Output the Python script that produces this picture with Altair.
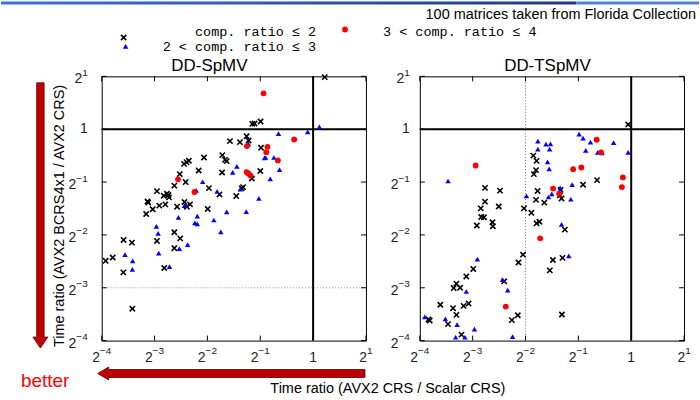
import altair as alt
import pandas as pd

# ---------------- data ----------------
tick_values = [0.0625, 0.125, 0.25, 0.5, 1, 2]
tick_base = ["2", "2", "2", "2", "1", "2"]
tick_exp = ["−4", "−3", "−2", "−1", "", "1"]
panel_titles = ["DD-SpMV", "DD-TSpMV"]
legend_labels = ["comp. ratio ≤ 2", "2 < comp. ratio ≤ 3", "3 < comp. ratio ≤ 4"]
note_text = ["100 matrices taken from Florida Collection"]
x_title = ["Time ratio (AVX2 CRS / Scalar CRS)"]
y_title = ["Time ratio (AVX2 BCRS4x1 / AVX2 CRS)"]
better_text = ["better"]
unity = [1]
spmv_dotted_y = [0.125]
tspmv_dotted_x = [0.25]

# DD-SpMV  (x: AVX2 CRS / Scalar CRS, y: AVX2 BCRS4x1 / AVX2 CRS)
spmv_low_x = [1.165, 0.450, 0.464, 0.502, 0.418, 0.429, 0.383, 0.336, 0.505, 0.304, 0.315, 0.322,
              0.239, 0.196, 0.190, 0.184, 0.223, 0.174, 0.303, 0.448, 0.500, 0.188, 0.162, 0.255,
              0.293, 0.399, 0.392, 0.365, 0.129, 0.141, 0.150, 0.151, 0.147, 0.114, 0.115, 0.133,
              0.144, 0.122, 0.112, 0.168, 0.185, 0.199, 0.191, 0.251, 0.162, 0.175, 0.129, 0.0833,
              0.0929, 0.162, 0.0722, 0.0658, 0.0830, 0.142, 0.0934]
spmv_low_y = [1.98, 1.072, 1.077, 1.106, 0.912, 0.862, 0.844, 0.855, 0.784, 0.712, 0.669, 0.658,
              0.690, 0.661, 0.649, 0.635, 0.582, 0.555, 0.567, 0.524, 0.578, 0.500, 0.477, 0.462,
              0.425, 0.468, 0.460, 0.416, 0.444, 0.418, 0.422, 0.409, 0.429, 0.388, 0.382, 0.367,
              0.373, 0.350, 0.329, 0.362, 0.385, 0.373, 0.362, 0.351, 0.259, 0.239, 0.231, 0.234,
              0.226, 0.210, 0.186, 0.178, 0.153, 0.162, 0.095]
spmv_mid_x = [1.086, 0.932, 0.635, 0.428, 0.529, 0.536, 0.598, 0.644, 0.570, 0.368, 0.348, 0.235,
              0.216, 0.284, 0.385, 0.491, 0.185, 0.322, 0.416, 0.219, 0.171, 0.272, 0.212, 0.219,
              0.128, 0.131, 0.298, 0.193, 0.173, 0.132, 0.0848, 0.0938, 0.0934, 0.152]
spmv_mid_y = [1.031, 0.966, 0.945, 0.825, 0.687, 0.690, 0.690, 0.588, 0.522, 0.614, 0.567, 0.502,
              0.448, 0.443, 0.456, 0.404, 0.367, 0.338, 0.339, 0.320, 0.315, 0.304, 0.293, 0.289,
              0.280, 0.255, 0.260, 0.220, 0.209, 0.197, 0.193, 0.178, 0.159, 0.165]
spmv_high_x = [0.522, 0.780, 0.420, 0.550, 0.541, 0.630, 0.418, 0.428, 0.439, 0.170, 0.211]
spmv_high_y = [1.601, 0.874, 0.801, 0.794, 0.740, 0.664, 0.570, 0.560, 0.546, 0.518, 0.439]

# DD-TSpMV
tspmv_low_x = [0.961, 0.639, 0.532, 0.277, 0.289, 0.287, 0.279, 0.147, 0.179, 0.293, 0.396, 0.147,
               0.176, 0.139, 0.140, 0.145, 0.132, 0.162, 0.163, 0.245, 0.270, 0.287, 0.320, 0.392,
               0.401, 0.289, 0.300, 0.419, 0.242, 0.228, 0.126, 0.115, 0.358, 0.406, 0.344, 0.101,
               0.0975, 0.106, 0.189, 0.0818, 0.1185, 0.111, 0.0966, 0.101, 0.0905, 0.0700, 0.0712,
               0.226, 0.209, 0.403, 0.108]
tspmv_low_y = [1.063, 0.513, 0.483, 0.707, 0.660, 0.585, 0.555, 0.463, 0.447, 0.445, 0.451, 0.387,
               0.363, 0.354, 0.316, 0.315, 0.283, 0.295, 0.280, 0.354, 0.334, 0.396, 0.382, 0.420,
               0.403, 0.291, 0.297, 0.268, 0.193, 0.174, 0.160, 0.145, 0.180, 0.185, 0.157, 0.132,
               0.1245, 0.125, 0.136, 0.100, 0.1016, 0.0985, 0.0956, 0.0876, 0.0776, 0.0825, 0.0814,
               0.0872, 0.0818, 0.0880, 0.0676]
tspmv_mid_x = [0.505, 0.532, 0.586, 0.794, 0.961, 0.551, 0.645, 0.682, 0.294, 0.327, 0.347, 0.294,
               0.343, 0.334, 0.341, 0.0905, 0.461, 0.253, 0.338, 0.353, 0.394, 0.453, 0.401, 0.441,
               0.133, 0.185, 0.198, 0.115, 0.0667, 0.0874, 0.102, 0.128, 0.100, 0.113, 0.211]
tspmv_mid_y = [0.937, 0.889, 0.845, 0.838, 0.738, 0.758, 0.738, 0.732, 0.856, 0.823, 0.826, 0.771,
               0.771, 0.651, 0.595, 0.507, 0.483, 0.417, 0.411, 0.428, 0.463, 0.399, 0.287, 0.190,
               0.182, 0.139, 0.121, 0.119, 0.0854, 0.0832, 0.0770, 0.0727, 0.0653, 0.0653, 0.0658]
tspmv_high_x = [0.636, 0.673, 0.130, 0.467, 0.520, 0.897, 0.885, 0.359, 0.389, 0.303, 0.193]
tspmv_high_y = [0.871, 0.738, 0.621, 0.592, 0.605, 0.531, 0.468, 0.459, 0.428, 0.239, 0.0977]

# ---------------- styling ----------------
W = H = 265
TICK = 5
FONT = "Liberation Sans"
MONO = "Liberation Mono"
LC = "#222222"
BASE_FS = 14
EXP_FS = 10
CROSS = "M-1,-1L1,1M-1,1L1,-1"
ARROW_LEFT = "M-1,0L-0.918,-0.0485L-0.918,-0.0299L1,-0.0299L1,0.0299L-0.918,0.0299L-0.918,0.0485Z"
ARROW_DOWN = "M0,1L-0.0564,0.917L-0.0282,0.917L-0.0282,-1L0.0282,-1L0.0282,0.917L0.0564,0.917Z"
ARROW_FILL = "#c00000"
ARROW_STROKE = "#5a0000"

log_scale = alt.Scale(type="log", base=2, domain=[0.0625, 2], nice=False)


def x_enc(field):
    return alt.X(f"{field}:Q", scale=log_scale, axis=None)


def y_enc(field):
    return alt.Y(f"{field}:Q", scale=log_scale, axis=None)


def one(value):
    return pd.DataFrame({"t": [value]})


def text_layer(value, x, y, **kw):
    return alt.Chart(one(value)).mark_text(**kw).encode(text="t:N", x=alt.value(x), y=alt.value(y))


def sym_layer(x, y, **kw):
    return alt.Chart(one(0)).mark_point(opacity=1, **kw).encode(x=alt.value(x), y=alt.value(y))


low_style = dict(shape=CROSS, filled=False, stroke="black", strokeWidth=1.6, size=28)
mid_style = dict(shape="triangle-up", filled=True, color="#0000ff", size=30, strokeWidth=0)
high_style = dict(shape="circle", filled=True, color="#ff0000", size=34, strokeWidth=0)

labels_df = pd.DataFrame({"v": tick_values, "base": tick_base, "exp": tick_exp})
neg_df = labels_df[labels_df["exp"].str.startswith("−")]
pos_df = labels_df[(labels_df["exp"] != "") & ~labels_df["exp"].str.startswith("−")]
one_lbl_df = labels_df[labels_df["exp"] == ""]


def tick_label_layers(y_right_edge):
    t = dict(font=FONT, color=LC, baseline="middle")
    xb, xe = H + 17.5, H + 10.5
    layers = [
        # x axis labels
        alt.Chart(neg_df).mark_text(align="right", dx=-1.8, fontSize=BASE_FS, **t).encode(
            x=x_enc("v"), y=alt.value(xb), text="base:N"),
        alt.Chart(neg_df).mark_text(align="left", dx=-1.8, fontSize=EXP_FS, **t).encode(
            x=x_enc("v"), y=alt.value(xe), text="exp:N"),
        alt.Chart(pos_df).mark_text(align="right", dx=1.1, fontSize=BASE_FS, **t).encode(
            x=x_enc("v"), y=alt.value(xb), text="base:N"),
        alt.Chart(pos_df).mark_text(align="left", dx=1.1, fontSize=EXP_FS, **t).encode(
            x=x_enc("v"), y=alt.value(xe), text="exp:N"),
        alt.Chart(one_lbl_df).mark_text(align="center", fontSize=BASE_FS, **t).encode(
            x=x_enc("v"), y=alt.value(xb), text="base:N"),
        # y axis labels
        alt.Chart(neg_df).mark_text(align="right", dy=3, fontSize=BASE_FS, **t).encode(
            y=y_enc("v"), x=alt.value(-y_right_edge - 11.4), text="base:N"),
        alt.Chart(neg_df).mark_text(align="right", dy=-3.5, fontSize=EXP_FS, **t).encode(
            y=y_enc("v"), x=alt.value(-y_right_edge), text="exp:N"),
        alt.Chart(pos_df).mark_text(align="right", dy=3, fontSize=BASE_FS, **t).encode(
            y=y_enc("v"), x=alt.value(-y_right_edge - 5.6), text="base:N"),
        alt.Chart(pos_df).mark_text(align="right", dy=-3.5, fontSize=EXP_FS, **t).encode(
            y=y_enc("v"), x=alt.value(-y_right_edge), text="exp:N"),
        alt.Chart(one_lbl_df).mark_text(align="right", fontSize=BASE_FS, **t).encode(
            y=y_enc("v"), x=alt.value(-y_right_edge), text="base:N"),
    ]
    return layers


def panel(lx, ly, mx, my, hx, hy, y_edge, dotted, title, title_x, extras):
    ticks = pd.DataFrame({"v": tick_values})
    one_df = pd.DataFrame({"v": unity})
    layers = list(extras)
    if dotted[0] == "y":
        layers.append(alt.Chart(pd.DataFrame({"v": dotted[1]})).mark_rule(
            color="#9a9a9a", strokeWidth=1, strokeDash=[1, 2]).encode(y=y_enc("v")))
    else:
        layers.append(alt.Chart(pd.DataFrame({"v": dotted[1]})).mark_rule(
            color="#777777", strokeWidth=1, strokeDash=[1, 2]).encode(x=x_enc("v")))
    layers += [
        alt.Chart(ticks).mark_rule(color="black").encode(x=x_enc("v"), y=alt.value(H), y2=alt.value(H - TICK)),
        alt.Chart(ticks).mark_rule(color="black").encode(x=x_enc("v"), y=alt.value(0), y2=alt.value(TICK)),
        alt.Chart(ticks).mark_rule(color="black").encode(y=y_enc("v"), x=alt.value(0), x2=alt.value(TICK)),
        alt.Chart(ticks).mark_rule(color="black").encode(y=y_enc("v"), x=alt.value(W - TICK), x2=alt.value(W)),
        alt.Chart(one_df).mark_rule(color="black", strokeWidth=2).encode(x=x_enc("v")),
        alt.Chart(one_df).mark_rule(color="black", strokeWidth=2).encode(y=y_enc("v")),
        alt.Chart(pd.DataFrame({"x": lx, "y": ly})).mark_point(opacity=1, **low_style).encode(x=x_enc("x"), y=y_enc("y")),
        alt.Chart(pd.DataFrame({"x": mx, "y": my})).mark_point(opacity=1, **mid_style).encode(x=x_enc("x"), y=y_enc("y")),
        alt.Chart(pd.DataFrame({"x": hx, "y": hy})).mark_point(opacity=1, **high_style).encode(x=x_enc("x"), y=y_enc("y")),
        text_layer(title, title_x, -10, font=FONT, fontSize=17, align="center", baseline="middle", color="black"),
    ]
    layers += tick_label_layers(y_edge)
    return alt.layer(*layers).properties(width=W, height=H)


# decorations placed relative to the left panel's plot origin
left_extras = [
    alt.Chart(one(0)).mark_rect(fill={"gradient": "linear", "stops": [
        {"offset": 0, "color": "#3c72da"}, {"offset": 1, "color": "#1d3b7c"}]}).encode(
        x=alt.value(-101), x2=alt.value(476), y=alt.value(-75), y2=alt.value(-72)),
    alt.Chart(one(0)).mark_rect(fill="#4c82d6").encode(
        x=alt.value(476), x2=alt.value(599), y=alt.value(-75), y2=alt.value(-72)),
    alt.Chart(one(0)).mark_rect(fill="white").encode(
        x=alt.value(0), x2=alt.value(10), y=alt.value(324), y2=alt.value(325)),
    text_layer(note_text[0], 596, -62, font=FONT, fontSize=14.5, align="right", baseline="middle", color="black"),
    sym_layer(22, -39, **low_style),
    sym_layer(24, -30, **mid_style),
    sym_layer(244, -47, **high_style),
    text_layer(legend_labels[0], 215, -44, font=MONO, fontSize=13.5, align="right", baseline="middle", color="black"),
    text_layer(legend_labels[1], 215, -29.5, font=MONO, fontSize=13.5, align="right", baseline="middle", color="black"),
    text_layer(legend_labels[2], 436, -44, font=MONO, fontSize=13.5, align="right", baseline="middle", color="black"),
    text_layer(y_title[0], -42, 140, font=FONT, fontSize=14.5, angle=270, align="center", baseline="middle", color="black"),
    text_layer(x_title[0], 287, 314, font=FONT, fontSize=14.5, align="center", baseline="middle", color="black"),
    text_layer(better_text[0], -81, 306, font=FONT, fontSize=19, align="left", baseline="middle", color="#ff0000"),
    sym_layer(-61.5, 139.5, shape=ARROW_DOWN, filled=True, fill=ARROW_FILL, stroke=ARROW_STROKE,
              strokeWidth=0.8, size=266 * 266),
    sym_layer(130, 298, shape=ARROW_LEFT, filled=True, fill=ARROW_FILL, stroke=ARROW_STROKE,
              strokeWidth=0.8, size=268 * 268),
]

left = panel(spmv_low_x, spmv_low_y, spmv_mid_x, spmv_mid_y, spmv_high_x, spmv_high_y,
             14, ("y", spmv_dotted_y), panel_titles[0], 108, left_extras)
right = panel(tspmv_low_x, tspmv_low_y, tspmv_mid_x, tspmv_mid_y, tspmv_high_x, tspmv_high_y,
              10, ("x", tspmv_dotted_x), panel_titles[1], 128, [])

chart = alt.hconcat(left, right, spacing=54, bounds="flush").properties(padding=0).configure_view(
    stroke="black", strokeWidth=1
)

chart.save("out.html", embed_options={"renderer": "svg", "actions": False})
